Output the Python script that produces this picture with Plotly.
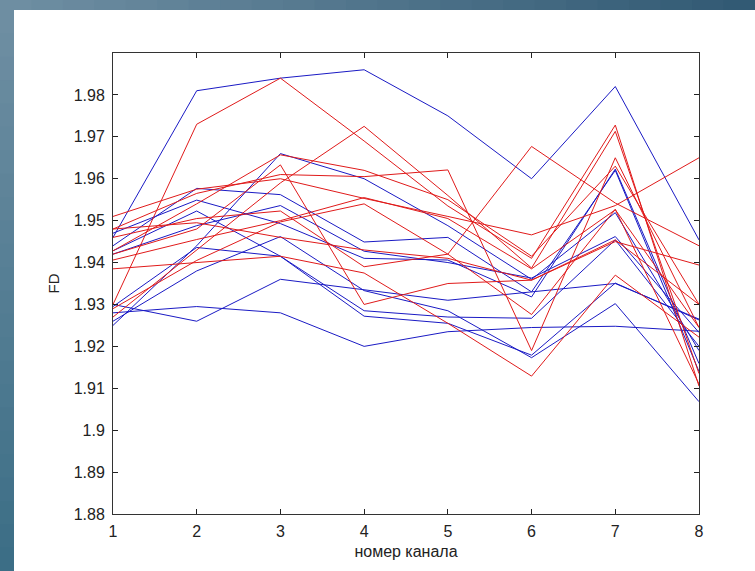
import plotly.graph_objects as go

channels = [1, 2, 3, 4, 5, 6, 7, 8]

blue_series = [
    [1.946, 1.981, 1.984, 1.986, 1.975, 1.960, 1.982, 1.9454],
    [1.930, 1.926, 1.936, 1.9335, 1.931, 1.933, 1.935, 1.9265],
    [1.928, 1.9295, 1.928, 1.920, 1.9235, 1.9245, 1.9248, 1.9236],
    [1.925, 1.944, 1.966, 1.960, 1.9488, 1.936, 1.9519, 1.919],
    [1.944, 1.9577, 1.9562, 1.9449, 1.946, 1.933, 1.962, 1.914],
    [1.947, 1.9549, 1.9493, 1.941, 1.9406, 1.9318, 1.9623, 1.9159],
    [1.942, 1.9488, 1.9536, 1.9427, 1.940, 1.9363, 1.9462, 1.9233],
    [1.9428, 1.9523, 1.9415, 1.9285, 1.927, 1.9267, 1.9454, 1.920],
    [1.9295, 1.9436, 1.9415, 1.9272, 1.9255, 1.9179, 1.9351, 1.9263],
    [1.926, 1.938, 1.9462, 1.9333, 1.9285, 1.9173, 1.9302, 1.9068],
]

red_series = [
    [1.930, 1.973, 1.984, 1.969, 1.9535, 1.941, 1.9728, 1.9105],
    [1.927, 1.943, 1.959, 1.9725, 1.956, 1.9387, 1.9713, 1.9135],
    [1.929, 1.9405, 1.9497, 1.954, 1.942, 1.9677, 1.9542, 1.944],
    [1.951, 1.9575, 1.960, 1.9553, 1.951, 1.9466, 1.9536, 1.965],
    [1.948, 1.9565, 1.961, 1.9605, 1.9621, 1.919, 1.965, 1.9245],
    [1.942, 1.948, 1.9633, 1.930, 1.935, 1.9358, 1.9454, 1.930],
    [1.9385, 1.940, 1.9415, 1.9375, 1.9255, 1.9129, 1.937, 1.9222],
    [1.948, 1.9495, 1.946, 1.943, 1.941, 1.9358, 1.945, 1.9394],
    [1.9428, 1.954, 1.9657, 1.962, 1.955, 1.9415, 1.963, 1.930],
    [1.946, 1.9505, 1.9523, 1.939, 1.942, 1.9276, 1.9527, 1.911],
    [1.9406, 1.9455, 1.950, 1.9555, 1.9505, 1.9385, 1.9526, 1.9245],
]

y_tick_vals = [1.88, 1.89, 1.90, 1.91, 1.92, 1.93, 1.94, 1.95, 1.96, 1.97, 1.98]
y_tick_text = ["1.88", "1.89", "1.9", "1.91", "1.92", "1.93", "1.94", "1.95", "1.96", "1.97", "1.98"]
x_label = "номер канала"
y_label = "FD"

W, H = 755, 571
L, R, T, B = 113, 699, 53, 514

fig = go.Figure()
for s in blue_series:
    fig.add_trace(go.Scatter(x=channels, y=s, mode="lines", hoverinfo="skip",
                             line=dict(color="#1a1ac4", width=1), showlegend=False))
for s in red_series:
    fig.add_trace(go.Scatter(x=channels, y=s, mode="lines", hoverinfo="skip",
                             line=dict(color="#e01a1a", width=1), showlegend=False))

def px_x(p):
    return (p - L) / (R - L)

def px_y(p):
    return (B - p) / (B - T)

def lerp(c1, c2, t):
    return "rgb(%d,%d,%d)" % tuple(round(a + (b - a) * t) for a, b in zip(c1, c2))

shapes = []
n = 24
top_left, top_right = (110, 142, 162), (50, 90, 116)
for i in range(n):
    x0 = W * i / n
    x1 = W * (i + 1) / n + 1
    shapes.append(dict(type="rect", xref="paper", yref="paper",
                       x0=px_x(x0), x1=px_x(x1), y0=px_y(-2), y1=px_y(10),
                       fillcolor=lerp(top_left, top_right, i / (n - 1)),
                       line=dict(width=0), layer="below"))
left_top, left_bot = (110, 142, 162), (60, 110, 134)
for i in range(n):
    y0 = 10 + (H - 10) * i / n
    y1 = 10 + (H - 10) * (i + 1) / n + 1
    shapes.append(dict(type="rect", xref="paper", yref="paper",
                       x0=px_x(-2), x1=px_x(14), y0=px_y(y0), y1=px_y(y1),
                       fillcolor=lerp(left_top, left_bot, i / (n - 1)),
                       line=dict(width=0), layer="below"))

font_family = "Liberation Sans, Arial, sans-serif"

fig.update_layout(
    width=W, height=H,
    margin=dict(l=L, r=W - R, t=T, b=H - B),
    paper_bgcolor="white", plot_bgcolor="white",
    shapes=shapes,
    font=dict(family=font_family, size=16, color="#222222"),
    xaxis=dict(range=[1, 8], tickvals=channels, ticktext=[str(c) for c in channels],
               ticks="inside", ticklen=5, tickcolor="#222", mirror="ticks",
               showline=True, linecolor="#333", linewidth=1, showgrid=False,
               zeroline=False, ticklabelstandoff=3,
               title=dict(text=x_label, standoff=6, font=dict(size=16))),
    yaxis=dict(range=[1.88, 1.99], tickvals=y_tick_vals, ticktext=y_tick_text,
               ticks="inside", ticklen=5, tickcolor="#222", mirror="ticks",
               showline=True, linecolor="#333", linewidth=1, showgrid=False,
               zeroline=False, ticklabelstandoff=4,
               title=dict(text=y_label, standoff=10, font=dict(size=15))),
)

fig.write_html("out.html", config={"displayModeBar": False},
               post_script="document.body.style.margin='0';document.body.style.padding='0';")
